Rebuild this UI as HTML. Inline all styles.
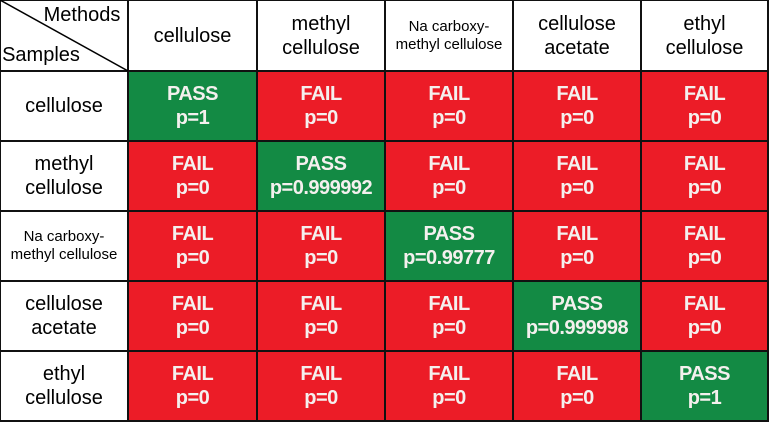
<!DOCTYPE html>
<html><head><meta charset="utf-8"><style>
body{margin:0;width:770px;height:428px;background:#fff;overflow:hidden;font-family:"Liberation Sans",Arial,sans-serif}
#t{position:absolute;left:0;top:0;width:770px;height:428px}
.c{position:absolute;box-sizing:border-box;display:flex;align-items:center;justify-content:center;text-align:center;line-height:1.2}
.h{color:#000;font-size:20px}
.v{color:#f4f0ee;font-size:20px;font-weight:bold;line-height:1.2;letter-spacing:-0.5px}
.line{position:absolute;background:#111}
</style></head><body>
<div id="t"></div>
<script>
const methods=["cellulose","methyl<br>cellulose","Na carboxy-<br>methyl cellulose","cellulose<br>acetate","ethyl<br>cellulose"];
const samples=["cellulose","methyl<br>cellulose","Na carboxy-<br>methyl cellulose","cellulose<br>acetate","ethyl<br>cellulose"];
const pvalues=[
["1","0","0","0","0"],
["0","0.999992","0","0","0"],
["0","0","0.99777","0","0"],
["0","0","0","0.999998","0"],
["0","0","0","0","1"]];
const colX=[0,128,257,385,513,641,768];
const rowY=[0,71,141,211,281,351,421];
const t=document.getElementById('t');
function cell(x0,y0,x1,y1,html,cls,bg,name){
  const d=document.createElement('div');
  d.className='c '+cls;
  d.style.left=x0+'px';d.style.top=y0+'px';d.style.width=(x1-x0)+'px';d.style.height=(y1-y0)+'px';
  if(bg)d.style.background=bg;
  d.innerHTML=html;
  
  
  t.appendChild(d);
}
methods.forEach((m,j)=>{
  const small=m.indexOf('Na')===0;
  cell(colX[j+1],rowY[0],colX[j+2],rowY[1],'<span style="'+(small?'font-size:15px':'')+'">'+m+'</span>','h',null,'column-header');
});
samples.forEach((s,i)=>{
  const small=s.indexOf('Na')===0;
  cell(colX[0],rowY[i+1],colX[1],rowY[i+2],'<span style="'+(small?'font-size:15px':'')+'">'+s+'</span>','h',null,'row-header');
  pvalues[i].forEach((p,j)=>{
    const pass=parseFloat(p)>0.5;
    cell(colX[j+1],rowY[i+1],colX[j+2],rowY[i+2],(pass?'PASS':'FAIL')+'<br>p='+p,'v',pass?'#138a44':'#ec1c27',pass?'pass-cell':'fail-cell');
  });
});
// corner labels
cell(38,2,126,28,'Methods','h',null,'methods-label');
cell(0,40,82,70,'Samples','h',null,'samples-label');
// grid lines
colX.forEach(x=>{const l=document.createElement('div');l.className='line';l.style.left=(x-1)+'px';l.style.top='0px';l.style.width='2px';l.style.height='422px';

t.appendChild(l);});
rowY.forEach(y=>{const l=document.createElement('div');l.className='line';l.style.left='0px';l.style.top=(y-1)+'px';l.style.width='769px';l.style.height='2px';

t.appendChild(l);});
</script>
<svg style="position:absolute;left:0;top:0" width="130" height="72"><line x1="0" y1="0" x2="128" y2="71" stroke="#000" stroke-width="1.5"/></svg>
</body></html>
